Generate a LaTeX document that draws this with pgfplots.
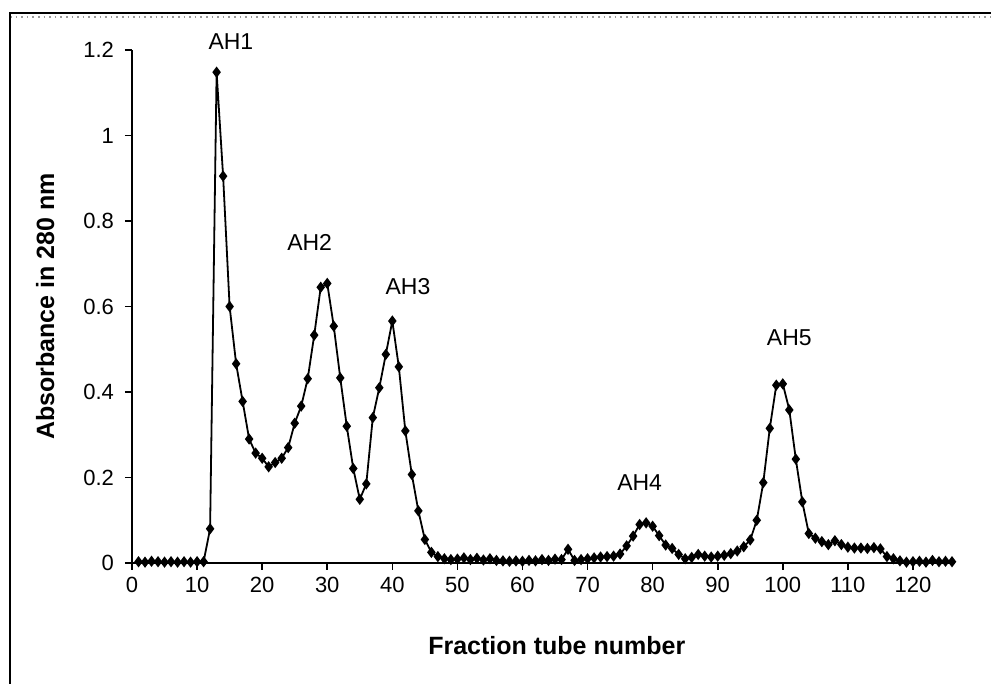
\documentclass[border=0pt]{standalone}
\usepackage{fontspec}
\setmainfont{Liberation Sans}
\usepackage{pgfplots}
\pgfplotsset{compat=1.18}
\newcommand{\tickfont}{\fontsize{11}{13}\selectfont}
\newcommand{\notefont}{\fontsize{11.5}{13.5}\selectfont}
\newcommand{\labelfont}{\fontsize{12.5}{15}\selectfont\bfseries}

\begin{document}
\begin{tikzpicture}
% page frame (image is 991x684 px, 1 px = 0.5 pt)
\path[use as bounding box] (0,0) rectangle (495.5pt,342pt);
\draw[black!40, dotted, line width=0.8pt] (5pt,333.5pt) -- (495.5pt,333.5pt);
\draw[black, line width=1pt] (5pt,0) -- (5pt,335.5pt) -- (495.5pt,335.5pt);

\begin{axis}[
    at={(66pt,60.5pt)}, anchor=south west,
    scale only axis,
    width=410pt, height=256.5pt,
    xmin=0, xmax=126,
    ymin=0, ymax=1.2,
    clip=false,
    axis x line*=bottom,
    axis y line*=left,
    axis line style={-, black, line width=0.8pt},
    xtick={0,10,...,120},
    ytick={0,0.2,0.4,0.6,0.8,1,1.2},
    tick align=outside,
    major tick length=3.5pt,
    tick style={black, line width=0.8pt},
    /pgf/number format/assume math mode=true,
    yticklabel style={/pgf/number format/fixed, /pgf/number format/precision=1, xshift=-2pt},
    tick label style={font=\tickfont},
    label style={font=\labelfont},
    xlabel={Fraction tube number},
    ylabel={Absorbance in 280 nm},
    xlabel style={at={(axis description cs:0.518,-0.16)}, anchor=center},
    ylabel style={at={(axis description cs:-0.106,0.5)}, anchor=center},
]
\addplot[black, line width=0.9pt, mark=diamond*, mark size=2.1pt] coordinates {
(1,0.003) (2,0.002) (3,0.004) (4,0.003) (5,0.002) (6,0.003) (7,0.002) (8,0.003) (9,0.002) (10,0.003) (11,0.003)
(12,0.08) (13,1.148) (14,0.905) (15,0.600) (16,0.466) (17,0.378) (18,0.290) (19,0.257) (20,0.245)
(21,0.225) (22,0.235) (23,0.245) (24,0.270) (25,0.327) (26,0.367) (27,0.431) (28,0.533) (29,0.645) (30,0.654)
(31,0.554) (32,0.433) (33,0.320) (34,0.221) (35,0.149) (36,0.185) (37,0.340) (38,0.410) (39,0.488) (40,0.566)
(41,0.459) (42,0.309) (43,0.207) (44,0.122) (45,0.055) (46,0.025) (47,0.015) (48,0.010) (49,0.008) (50,0.009)
(51,0.012) (52,0.008) (53,0.011) (54,0.007) (55,0.010) (56,0.006) (57,0.005) (58,0.004) (59,0.005) (60,0.004)
(61,0.006) (62,0.005) (63,0.008) (64,0.006) (65,0.009) (66,0.008) (67,0.032) (68,0.006) (69,0.008) (70,0.010)
(71,0.012) (72,0.014) (73,0.015) (74,0.016) (75,0.021) (76,0.040) (77,0.063) (78,0.090) (79,0.094) (80,0.086)
(81,0.064) (82,0.042) (83,0.034) (84,0.020) (85,0.010) (86,0.013) (87,0.020) (88,0.016) (89,0.014) (90,0.016)
(91,0.018) (92,0.022) (93,0.028) (94,0.038) (95,0.054) (96,0.100) (97,0.188) (98,0.315) (99,0.416) (100,0.419)
(101,0.358) (102,0.243) (103,0.143) (104,0.069) (105,0.058) (106,0.050) (107,0.043) (108,0.052) (109,0.043) (110,0.037)
(111,0.035) (112,0.035) (113,0.034) (114,0.036) (115,0.033) (116,0.015) (117,0.010) (118,0.005) (119,0.002) (120,0.003)
(121,0.004) (122,0.002) (123,0.006) (124,0.003) (125,0.004) (126,0.003)
};
\node[font=\notefont] at (axis cs:15.2,1.219) {AH1};
\node[font=\notefont] at (axis cs:27.3,0.749) {AH2};
\node[font=\notefont] at (axis cs:42.4,0.646) {AH3};
\node[font=\notefont] at (axis cs:78.0,0.187) {AH4};
\node[font=\notefont] at (axis cs:101.0,0.526) {AH5};
\end{axis}
\end{tikzpicture}
\end{document}
